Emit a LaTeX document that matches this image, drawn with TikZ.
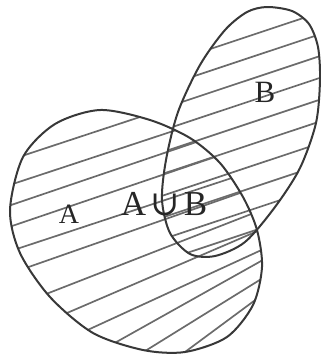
\documentclass[tikz,border=0pt]{standalone}
\usepackage{fontspec}
\setmainfont{Liberation Serif}
\newfontfamily\symfont{DejaVu Serif}
\tikzset{
  outl/.style={draw=black!78, line width=2pt},
  hatch/.style={draw=black!58, line width=1.7pt},
  lbl/.style={inner sep=0pt, anchor=base, text=black!85}
}
\newcommand\pathA{plot[smooth cycle] coordinates {(100,110) (150,120) (190,138) (220,163) (243,197) (257,230) (262,267) (253,305) (227,337) (185,352) (143,350) (93,333) (50,297) (20,253) (10,210) (23,157) (55,124)}}
\newcommand\pathB{plot[smooth cycle] coordinates {(267,7) (292,11) (309,24) (318,47) (320,80) (316,123) (300,168) (275,207) (245,242) (215,256) (190,254) (170,233) (162,200) (166,160) (178,112) (200,65) (225,30) (247,12)}}
\begin{document}
\begin{tikzpicture}[x=1pt, y=-1pt]
\useasboundingbox (0,0) rectangle (321,357);
% hatching of A
\begin{scope}
  \clip \pathA;
  \foreach \c/\m in {163.2/0.33, 188.2/0.33, 208.8/0.34, 230.1/0.34, 254.5/0.33, 277/0.35, 312/0.39, 341.8/0.43, 370.3/0.46, 407.2/0.56, 441/0.62, 488.9/0.74}
    \draw[hatch] (0,\c) -- (290,{\c-290*\m});
\end{scope}
% hatching of B
\begin{scope}
  \clip \pathB;
  \foreach \k in {0,...,9}
    \draw[hatch] (150,{119+21.8*\k-150*0.333}) -- (330,{119+21.8*\k-330*0.333});
\end{scope}
% outlines
\draw[outl] \pathA;
\draw[outl] \pathB;
% labels
\node[lbl, font=\fontsize{28}{28}\selectfont] (la) at (69,223) {A};
\node[lbl, font=\fontsize{35}{35}\selectfont] (lab) at (164,215) {A\hspace{0.12em}{\symfont ∪}\hspace{0.12em}B};
\node[lbl, font=\fontsize{31}{31}\selectfont] (lb) at (265,102) {B};
\end{tikzpicture}
\end{document}
